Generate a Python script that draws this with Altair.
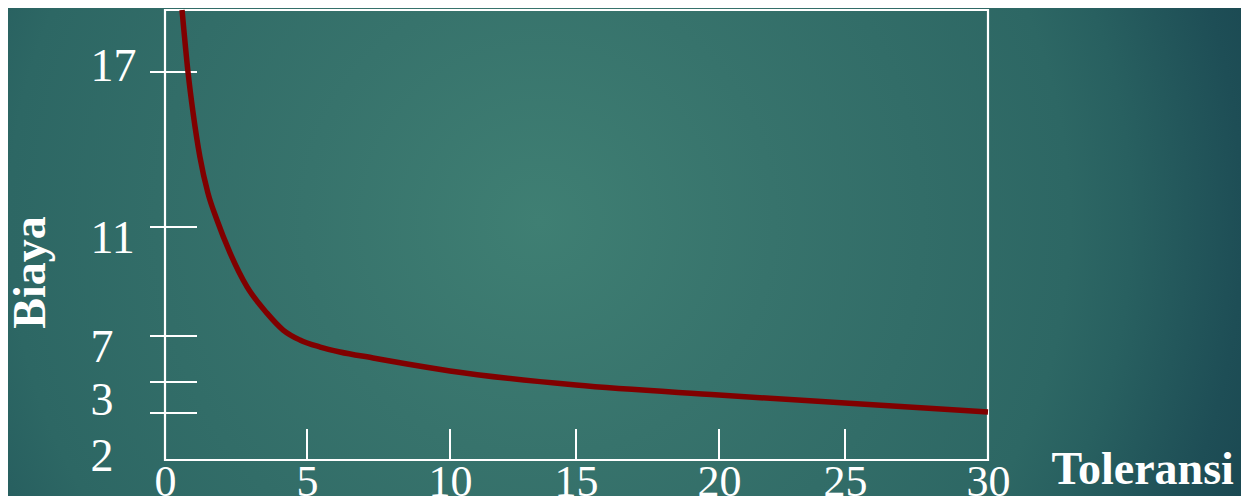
import altair as alt
import pandas as pd

# curve (Toleransi -> Biaya)
tolerance = [0.60, 0.81, 0.99, 1.23, 1.51, 1.83, 2.29, 2.89, 3.59, 4.16, 4.75, 5.46,
             6.15, 7.31, 8.50, 10.0, 15.0, 20.0, 25.0, 30.0]
cost = [19.4, 17.0, 15.41, 13.71, 12.32, 11.27, 10.05, 8.80, 7.84, 7.22, 6.74, 6.28,
        5.96, 5.57, 5.17, 4.72, 3.90, 3.58, 3.32, 3.03]

x_tick_values = [5, 10, 15, 20, 25]
x_label_values = [0, 5, 10, 15, 20, 25, 30]
y_tick_values = [17, 11, 7, 4, 3]
y_label_values = [17, 11, 7, 3, 2]

W, H = 823, 450
PAD = {"left": 157, "top": 2, "right": 253, "bottom": 36}

# schematic (piecewise) scales, as in the original drawing
xscale = alt.Scale(domain=[0, 5, 10, 15, 20, 25, 30],
                   range=[0, 142, 285, 411, 554, 680, 823], nice=False, zero=False)
yscale = alt.Scale(domain=[2, 3, 4, 7, 11, 17, 19.4],
                   range=[450, 403, 372, 326, 217, 62, 0], nice=False, zero=False)

curve_df = pd.DataFrame({"Toleransi": tolerance, "Biaya": cost})
xt_df = pd.DataFrame({"Toleransi": x_tick_values})
yt_df = pd.DataFrame({"Biaya": y_tick_values})

FONT = "Liberation Serif"

bg = alt.Chart(alt.Data(values=[{}])).mark_rect(
    fill=alt.RadialGradient(
        gradient="radial", x1=0.431, y1=0.475, x2=0.431, y2=0.475, r1=0, r2=1,
        stops=[
            alt.GradientStop(color="#3f7f73", offset=0),
            alt.GradientStop(color="#37736c", offset=0.19),
            alt.GradientStop(color="#2d6764", offset=0.43),
            alt.GradientStop(color="#286060", offset=0.48),
            alt.GradientStop(color="#1e4e56", offset=0.57),
            alt.GradientStop(color="#1b4952", offset=0.61),
            alt.GradientStop(color="#16404a", offset=1),
        ],
    )
).encode(
    x=alt.value(-PAD["left"]), x2=alt.value(W + PAD["right"]),
    y=alt.value(-PAD["top"]), y2=alt.value(H + PAD["bottom"]),
)

frame = alt.Chart(alt.Data(values=[{}])).mark_rect(
    filled=False, stroke="white", strokeWidth=2.2
).encode(x=alt.value(0), x2=alt.value(W), y=alt.value(0), y2=alt.value(H))

xticks = alt.Chart(xt_df).mark_rule(color="white", strokeWidth=2).encode(
    x=alt.X("Toleransi:Q", scale=xscale),
    y=alt.value(H), y2=alt.value(H - 31),
)

yticks = alt.Chart(yt_df).mark_rule(color="white", strokeWidth=2).encode(
    y=alt.Y("Biaya:Q", scale=yscale),
    x=alt.value(-15), x2=alt.value(32),
)

line = alt.Chart(curve_df).mark_line(
    color="#800000", strokeWidth=5.5, interpolate="monotone"
).encode(
    x=alt.X("Toleransi:Q", scale=xscale, axis=alt.Axis(
        values=x_label_values, ticks=False, domain=False, grid=False,
        labelFont=FONT, labelFontSize=44, labelColor="white", labelPadding=0,
        labelOverlap=False, labelFlush=False, zindex=2,
        title="Toleransi", titleFont=FONT, titleFontSize=46, titleFontWeight="bold",
        titleColor="white", titleX=886, titleY=23, titleAlign="left",
        titleBaseline="alphabetic", titleAnchor="start",
    )),
    y=alt.Y("Biaya:Q", scale=yscale, axis=alt.Axis(
        values=y_label_values, ticks=False, domain=False, grid=False,
        labelFont=FONT, labelFontSize=46, labelColor="white", labelPadding=75,
        labelAlign="left", labelOverlap=False, labelFlush=False, zindex=2,
        labelOffset={"condition": [
            {"test": "datum.value == 17", "value": -6},
            {"test": "datum.value == 3", "value": -13},
            {"test": "datum.value == 2", "value": -4},
        ], "value": 11},
        title="Biaya", titleFont=FONT, titleFontSize=46, titleFontWeight="bold",
        titleColor="white", titleAngle=270, titleX=-135, titleY=262,
        titleAlign="center", titleBaseline="middle",
    )),
)

chart = alt.layer(bg, frame, xticks, yticks, line).properties(
    width=W, height=H, padding=PAD,
    autosize=alt.AutoSizeParams(type="none"),
    background="#1d4d55",
).configure_view(stroke=None)

chart.save("out.html", embed_options={"renderer": "svg", "actions": False})
